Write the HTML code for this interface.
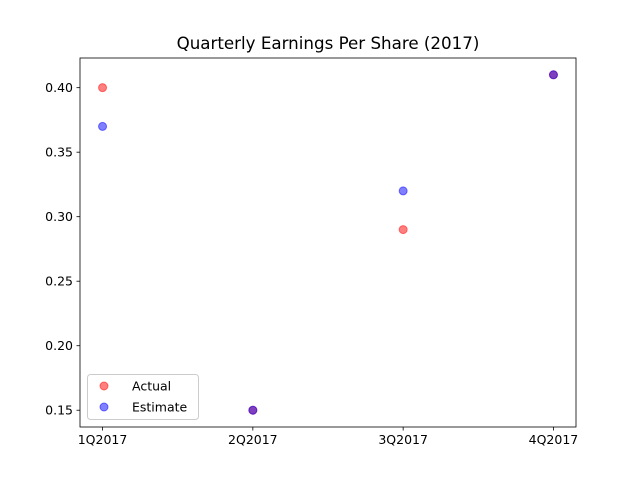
<!DOCTYPE html>
<html><head><meta charset="utf-8"><style>
body{margin:0;background:#fff}
svg{display:block;font-family:"DejaVu Sans","Liberation Sans",sans-serif}
</style></head><body>
<svg id="chart" width="640" height="480" xmlns="http://www.w3.org/2000/svg">
<rect width="640" height="480" fill="#fff"/>
<text x="328" y="49" font-size="16.7" text-anchor="middle">Quarterly Earnings Per Share (2017)</text>
<g id="plot"></g>
</svg>
<script>
const categories = ["1Q2017","2Q2017","3Q2017","4Q2017"];
const actual = [0.40,0.15,0.29,0.41];
const estimate = [0.37,0.15,0.32,0.41];
const yTicks = [0.15,0.20,0.25,0.30,0.35,0.40];
const yTickLabels = ["0.15","0.20","0.25","0.30","0.35","0.40"];

const L=80,R=576,T=58,B=427;
const ns="http://www.w3.org/2000/svg";
const n=categories.length;
const m=0.05*(n-1);
const x=i=>L+(i+m)/((n-1)+2*m)*(R-L);
const all=actual.concat(estimate);
const mn=Math.min(...all),mx=Math.max(...all),pad=(mx-mn)*0.05;
const y0=mn-pad,y1=mx+pad;
const y=v=>B-(v-y0)/(y1-y0)*(B-T);
const g=document.getElementById('plot');
function mk(t,a){const e=document.createElementNS(ns,t);for(const k in a)e.setAttribute(k,a[k]);g.appendChild(e);return e;}

yTicks.forEach((v,i)=>{
  const l=mk('line',{x1:L-3.5,x2:L,y1:y(v),y2:y(v),stroke:'#000','stroke-width':0.8});
  
  
  const t=mk('text',{x:L-7,y:y(v)+4.5,'font-size':12.5,'text-anchor':'end'});
  t.textContent=yTickLabels[i];
  
  
});
categories.forEach((c,i)=>{
  const l=mk('line',{x1:x(i),x2:x(i),y1:B,y2:B+3.5,stroke:'#000','stroke-width':0.8});
  
  
  const t=mk('text',{x:x(i),y:B+17,'font-size':12.5,'text-anchor':'middle'});
  t.textContent=c;
  
  
});
actual.forEach((v,i)=>{
  const p=mk('circle',{cx:x(i),cy:y(v),r:4,fill:'#ff0000','fill-opacity':0.5,stroke:'#ff0000','stroke-opacity':0.5,'stroke-width':1});
  
  
});
estimate.forEach((v,i)=>{
  const p=mk('circle',{cx:x(i),cy:y(v),r:4,fill:'#0000ff','fill-opacity':0.5,stroke:'#0000ff','stroke-opacity':0.5,'stroke-width':1});
  
  
});
const fr=mk('rect',{x:L,y:T,width:R-L,height:B-T,fill:'none',stroke:'#000','stroke-width':0.8});


const lg=mk('rect',{x:87.5,y:374.5,width:111,height:45,rx:3,fill:'#fff','fill-opacity':0.8,stroke:'#ccc','stroke-width':1});


[["Actual","#ff0000",386],["Estimate","#0000ff",407]].forEach(([lab,col,yy])=>{
  const c=mk('circle',{cx:104,cy:yy,r:4,fill:col,'fill-opacity':0.5,stroke:col,'stroke-opacity':0.5});
  
  
  const t=mk('text',{x:132,y:yy+4.5,'font-size':12.5});
  t.textContent=lab;
  
  
});
</script>
</body></html>
